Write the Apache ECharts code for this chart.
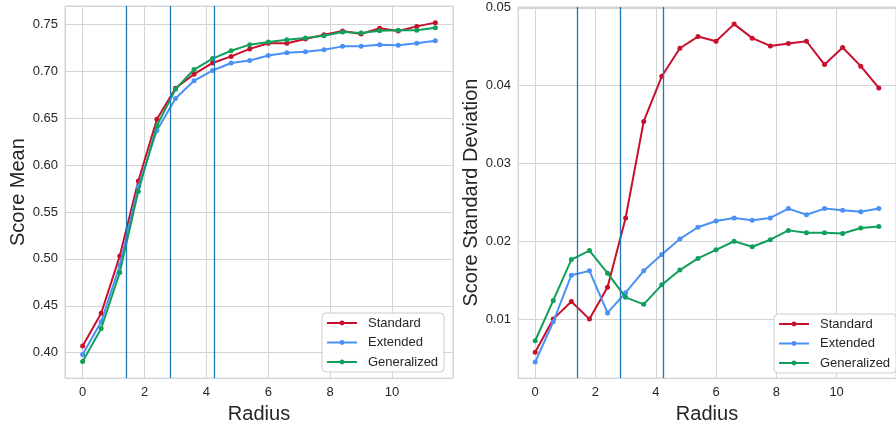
<!DOCTYPE html>
<html>
<head>
<meta charset="utf-8">
<script src="https://cdn.jsdelivr.net/npm/echarts@6/dist/echarts.min.js"></script>
<style>
html,body{margin:0;padding:0;background:#fff;}
#chart{width:896px;height:429px;}
</style>
</head>
<body>
<div id="chart"></div>
<script>
const radius = [0, 0.6, 1.2, 1.8, 2.4, 3.0, 3.6, 4.2, 4.8, 5.4, 6.0, 6.6, 7.2, 7.8, 8.4, 9.0, 9.6, 10.2, 10.8, 11.4];
const seriesNames = ['Standard', 'Extended', 'Generalized'];
const meanStandard = [0.407, 0.442, 0.503, 0.583, 0.649, 0.682, 0.697, 0.709, 0.716, 0.724, 0.730, 0.730, 0.7345, 0.739, 0.743, 0.740, 0.746, 0.743, 0.748, 0.752];
const meanExtended = [0.398, 0.433, 0.493, 0.577, 0.637, 0.671, 0.690, 0.701, 0.709, 0.7116, 0.717, 0.720, 0.721, 0.723, 0.7267, 0.7267, 0.7285, 0.728, 0.730, 0.7328];
const meanGeneralized = [0.3905, 0.4257, 0.4856, 0.572, 0.642, 0.681, 0.702, 0.7137, 0.722, 0.7285, 0.7314, 0.7338, 0.7356, 0.738, 0.742, 0.741, 0.7433, 0.744, 0.744, 0.7465];
const stdStandard = [0.00575, 0.0100, 0.01227, 0.0100, 0.0141, 0.0230, 0.0354, 0.0412, 0.0448, 0.0463, 0.0457, 0.0479, 0.0461, 0.0451, 0.0454, 0.0457, 0.0427, 0.0449, 0.0425, 0.0397];
const stdExtended = [0.00448, 0.00966, 0.01564, 0.0162, 0.0108, 0.0134, 0.0162, 0.0183, 0.0203, 0.0218, 0.0226, 0.0230, 0.0227, 0.0230, 0.0242, 0.0234, 0.0242, 0.0240, 0.0238, 0.0242];
const stdGeneralized = [0.00722, 0.0124, 0.01765, 0.0188, 0.0159, 0.0128, 0.0119, 0.0144, 0.0163, 0.0178, 0.0189, 0.0200, 0.0193, 0.0202, 0.0214, 0.0211, 0.0211, 0.0210, 0.0217, 0.0219];
const vLines = [1.4142, 2.8284, 4.2426];
const xTicks = [0, 2, 4, 6, 8, 10];

const colors = ['#c8102e', '#4a90f5', '#10a05a'];
const gridColor = '#d4d4d4';
const textColor = '#262626';
const FONT = 'Liberation Sans, Arial, sans-serif';

function pairs(ys) { return radius.map((x, i) => [x, ys[i]]); }

function xAxisDef(gridIndex) {
  return {
    type: 'value', gridIndex, min: -0.57, max: 11.97,
    minInterval: 2, maxInterval: 2,
    name: 'Radius', nameLocation: 'middle', nameGap: 19,
    nameTextStyle: { fontSize: 20, color: textColor, fontFamily: FONT },
    axisLine: { show: false }, axisTick: { show: false },
    axisLabel: { fontSize: 13, color: textColor, fontFamily: FONT, margin: 8,
      showMinLabel: false, showMaxLabel: false,
      formatter: v => (xTicks.indexOf(Math.round(v * 1000) / 1000) >= 0 ? String(Math.round(v)) : '') },
    splitLine: { show: true, lineStyle: { color: gridColor, width: 1 } }
  };
}
function yAxisDef(gridIndex, min, max, step, name, gap) {
  return {
    type: 'value', gridIndex, min, max, minInterval: step, maxInterval: step,
    name, nameLocation: 'middle', nameGap: gap,
    nameTextStyle: { fontSize: 20, color: textColor, fontFamily: FONT },
    axisLine: { show: false }, axisTick: { show: false },
    axisLabel: { fontSize: 13, color: textColor, fontFamily: FONT, margin: 7,
      showMinLabel: false, showMaxLabel: false,
      formatter: v => v.toFixed(2) },
    splitLine: { show: true, lineStyle: { color: gridColor, width: 1 } }
  };
}

function lineSeries(name, ys, idx, gi, withMark) {
  const s = {
    name, type: 'line', xAxisIndex: gi, yAxisIndex: gi,
    data: pairs(ys), symbol: 'circle', symbolSize: 5, showSymbol: true,
    lineStyle: { width: 2, color: colors[idx] }, itemStyle: { color: colors[idx] },
    z: 2 + idx, animation: false, silent: true
  };
  if (withMark) {
    s.markLine = {
      silent: true, symbol: ['none', 'none'], animation: false,
      label: { show: false },
      lineStyle: { color: '#1f77b4', width: 1.3, type: 'solid', opacity: 1 },
      emphasis: { disabled: true },
      data: vLines.map(v => ({ xAxis: v }))
    };
  }
  return s;
}

function legendDef(left, top) {
  return {
    orient: 'vertical', left, top, data: seriesNames,
    itemWidth: 30, itemHeight: 6, itemGap: 5.5,
    padding: [3, 6, 3, 4],
    backgroundColor: 'rgba(255,255,255,0.9)', borderColor: '#cccccc', borderWidth: 1, borderRadius: 4,
    textStyle: { fontSize: 13, color: textColor, fontFamily: FONT, lineHeight: 14, padding: [0, 0, 0, 6] },
    selectedMode: false
  };
}

const chart = echarts.init(document.getElementById('chart'), null, { renderer: 'canvas' });
chart.setOption({
  animation: false,
  backgroundColor: '#ffffff',
  grid: [
    { left: 65, top: 6, width: 388, height: 376, show: true, borderColor: gridColor, borderWidth: 1, backgroundColor: 'transparent' },
    { left: 518, top: 7, width: 388.5, height: 377, show: true, borderColor: gridColor, borderWidth: 1, backgroundColor: 'transparent' }
  ],
  xAxis: [xAxisDef(0), xAxisDef(1)],
  yAxis: [
    yAxisDef(0, 0.37285, 0.76975, 0.05, 'Score Mean', 35),
    yAxisDef(1, 0.00242, 0.0501, 0.01, 'Score Standard Deviation', 36)
  ],
  legend: [legendDef(322, 313), legendDef(774, 314)],
  series: [
    lineSeries('Standard', meanStandard, 0, 0, false),
    lineSeries('Extended', meanExtended, 1, 0, false),
    lineSeries('Generalized', meanGeneralized, 2, 0, true),
    lineSeries('Standard', stdStandard, 0, 1, false),
    lineSeries('Extended', stdExtended, 1, 1, false),
    lineSeries('Generalized', stdGeneralized, 2, 1, true)
  ]
});
</script>
</body>
</html>
